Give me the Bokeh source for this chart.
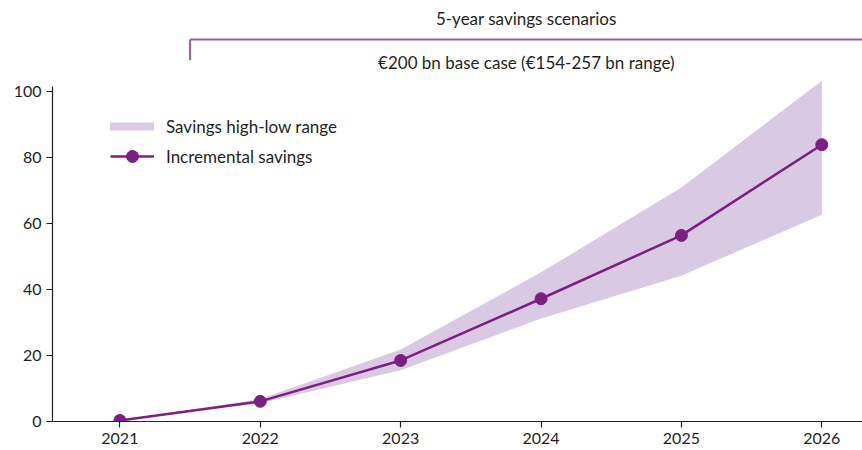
from bokeh.plotting import figure
from bokeh.models import FixedTicker, Legend, LegendItem, Range1d, Label
from bokeh.embed import file_html
from bokeh.resources import INLINE

years = [2021, 2022, 2023, 2024, 2025, 2026]
incremental = [0.3, 6.1, 18.5, 37.2, 56.4, 83.9]
range_high = [0.3, 6.8, 21.8, 45.2, 70.9, 103.3]
range_low = [0.3, 5.5, 15.5, 31.2, 44.2, 62.7]
y_ticks = [0, 20, 40, 60, 80, 100]
title_top = "5-year savings scenarios"
title_sub = "€200 bn base case (€154-257 bn range)"
legend_labels = ["Savings high-low range", "Incremental savings"]

FONT = "Lato"
TXT_C = "#231F20"
LINE_C = "#7B1F82"
BAND_C = "#DAC9E2"
BRACKET_C = "#9C5AA6"

p = figure(width=862, height=450, output_backend="svg", toolbar_location=None,
           x_range=Range1d(2020.52, 2026.29), y_range=Range1d(0, 127.6),
           min_border_left=52, min_border_right=0, min_border_top=0, min_border_bottom=29)
p.outline_line_color = None
p.xgrid.grid_line_color = None
p.ygrid.grid_line_color = None
p.background_fill_color = None
p.border_fill_color = None

band = p.varea(x=years, y1=range_low, y2=range_high, fill_color=BAND_C)
ln = p.line(years, incremental, line_color=LINE_C, line_width=2.5)
pts = p.scatter(years, incremental, size=12, fill_color=LINE_C, line_color=LINE_C)

# legend proxy glyph for the range (thick rounded bar), no visible data
band_proxy = p.line([float("nan"), float("nan")], [float("nan"), float("nan")],
                    line_color=BAND_C, line_width=8, line_cap="round")

legend = Legend(items=[LegendItem(label=legend_labels[0], renderers=[band_proxy]),
                       LegendItem(label=legend_labels[1], renderers=[ln, pts])],
                location=(58, 250), padding=0, margin=0, spacing=0,
                glyph_width=44, glyph_height=30, label_height=30, label_standoff=12,
                label_text_font=FONT, label_text_font_size="17px", label_text_color=TXT_C,
                border_line_color=None, background_fill_alpha=0)
p.add_layout(legend)

for ax in (p.xaxis[0], p.yaxis[0]):
    ax.axis_line_color = "#222222"
    ax.axis_line_width = 1.2
    ax.major_tick_line_color = "#222222"
    ax.major_tick_line_width = 1.2
    ax.major_tick_in = 0
    ax.major_tick_out = 6
    ax.minor_tick_line_color = None
    ax.major_label_text_font = FONT
    ax.major_label_text_font_size = "16px"
    ax.major_label_text_color = TXT_C
    ax.major_label_standoff = 5
p.xaxis.ticker = FixedTicker(ticks=years)
p.yaxis.ticker = FixedTicker(ticks=y_ticks)
p.yaxis.bounds = (0, 101.5)

# top bracket annotation
bx0 = 2021.5
bx1 = 2026.29
p.segment(x0=[bx0, bx0], y0=[115.8, 115.8], x1=[bx1, bx0], y1=[115.8, 109.5],
          line_color=BRACKET_C, line_width=2)
xc = (bx0 + bx1) / 2
p.add_layout(Label(x=xc, y=122.1, text=title_top, text_align="center", text_baseline="middle",
                   text_font=FONT, text_font_size="17px", text_color=TXT_C))
p.add_layout(Label(x=xc, y=108.8, text=title_sub, text_align="center", text_baseline="middle",
                   text_font=FONT, text_font_size="17px", text_color=TXT_C))

open("out.html", "w").write(file_html(p, INLINE))
